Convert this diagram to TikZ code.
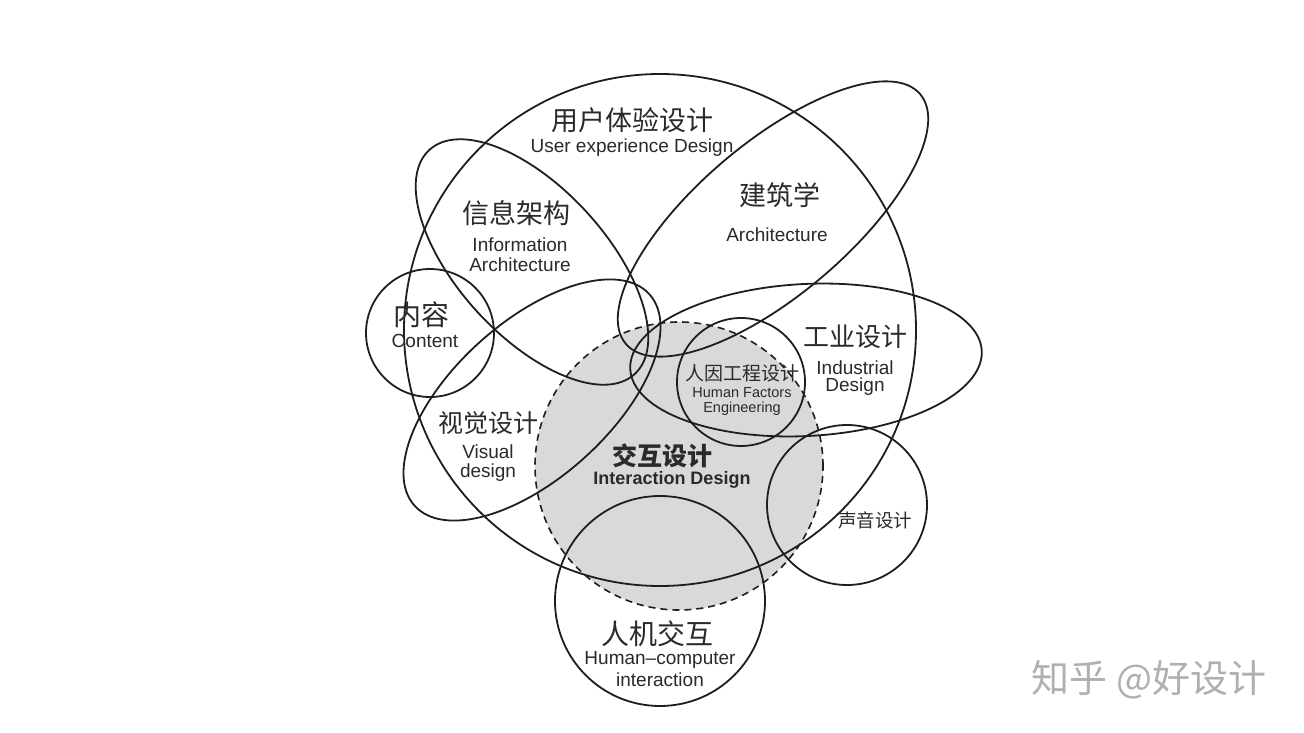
\documentclass[tikz,border=0pt]{standalone}
\usepackage{fontspec}
\setmainfont{Liberation Sans}
\newfontfamily\cjk{Noto Sans CJK SC}
\definecolor{ln}{HTML}{1E1E1E}
\definecolor{txt}{HTML}{2A2A2A}
\definecolor{fillg}{HTML}{D9D9D9}
\definecolor{wm}{HTML}{B0B0B0}
\begin{document}
\begin{tikzpicture}[x=1pt,y=1pt,
  outline/.style={draw=ln, line width=1.8pt},
  zh/.style={font=\cjk\fontsize{#1}{#1}\selectfont, inner sep=0pt, text=txt},
  en/.style={font=\fontsize{#1}{#1}\selectfont, inner sep=0pt, text=txt}]
\useasboundingbox[fill=white] (0,0) rectangle (1304,732);
% interaction design fill
\fill[fillg] (679,266) circle [radius=144];
% shapes
\draw[outline] (660,402) circle [radius=256];
\draw[outline, rotate around={-47.5:(532,470)}] (532,470) ellipse [x radius=152, y radius=74];
\draw[outline, rotate around={42:(532,332)}] (532,332) ellipse [x radius=158, y radius=78];
\draw[outline, rotate around={40.3:(773,513)}] (773,513) ellipse [x radius=193, y radius=76];
\draw[outline, rotate around={3:(806,372)}] (806,372) ellipse [x radius=176, y radius=76];
\draw[outline] (741,350) circle [radius=64];
\draw[outline] (847,227) circle [radius=80];
\draw[outline] (660,131) circle [radius=105];
\draw[outline] (430,399) circle [radius=64];
\draw[draw=ln, line width=1.6pt, dash pattern=on 7pt off 5pt] (679,266) circle [radius=144];
% labels
\node[zh=27] (uxzh) at (632,612) {用户体验设计};
\node[en=19] (uxen) at (632,584) {User experience Design};
\node[zh=27] (iazh) at (516,519) {信息架构};
\node[en=19] (iaen1) at (520,487) {Information};
\node[en=19] (iaen2) at (520,467) {Architecture};
\node[zh=27] (arzh) at (780,537) {建筑学};
\node[en=19] (aren) at (777,497) {Architecture};
\node[zh=28] (cozh) at (421,417) {内容};
\node[en=19] (coen) at (425,391) {Content};
\node[zh=26] (idzh) at (855,395) {工业设计};
\node[en=19] (iden1) at (855,364) {Industrial};
\node[en=19] (iden2) at (855,345) {Design};
\node[zh=19] (hfzh) at (742,359) {人因工程设计};
\node[en=14.5] (hfen1) at (742,339) {Human Factors};
\node[en=14.5] (hfen2) at (742,323) {Engineering};
\node[zh=25] (vdzh) at (488,309) {视觉设计};
\node[en=19] (vden1) at (488,280) {Visual};
\node[en=19] (vden2) at (488,259) {design};
\node[zh=25, font=\cjk\bfseries\fontsize{25}{25}\selectfont] (ixzh) at (662,276) {交互设计};
\node[en=18, font=\bfseries\fontsize{18}{18}\selectfont] (ixen) at (672,252) {Interaction Design};
\node[zh=18.5] (sdzh) at (875,212) {声音设计};
\node[zh=28] (hczh) at (657,98) {人机交互};
\node[en=19] (hcen1) at (660,72) {Human–computer};
\node[en=19] (hcen2) at (660,52) {interaction};
\node[zh=38, text=wm] (wmk) at (1149,52) {知乎 @好设计};
\end{tikzpicture}
\end{document}
